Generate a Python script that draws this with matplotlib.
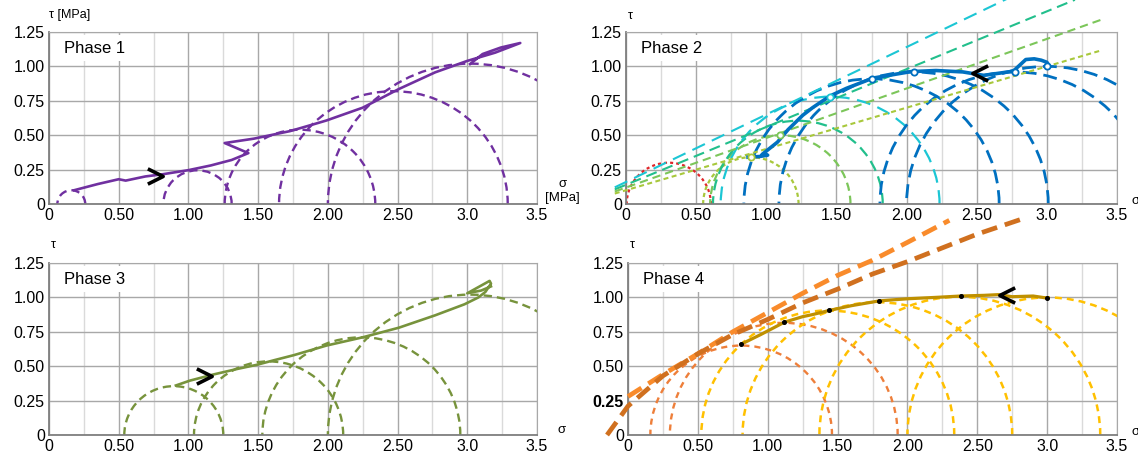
import numpy as np
import matplotlib.pyplot as plt
from matplotlib.patches import Arc
from matplotlib.path import Path

plt.rcParams['font.family'] = ['Liberation Sans', 'DejaVu Sans']
plt.rcParams['lines.scale_dashes'] = False

# ---------------- data ----------------
xtick_vals = [0, 0.5, 1.0, 1.5, 2.0, 2.5, 3.0, 3.5]
xtick_text = ['0', '0.50', '1.00', '1.50', '2.00', '2.50', '3.0', '3.5']
ytick_vals = [0, 0.25, 0.5, 0.75, 1.0, 1.25]
ytick_text = ['0', '0.25', '0.50', '0.75', '1.00', '1.25']

# phase 1
p1_c = [0.16, 1.065, 1.80, 2.47, 3.02]
p1_r = [0.10, 0.245, 0.54, 0.82, 1.02]
p1_sig = [0.18, 0.35, 0.50, 0.55, 0.69, 0.82, 1.00, 1.16, 1.31, 1.43, 1.26, 1.47,
          1.73, 1.91, 1.99, 2.25, 2.51, 2.77, 3.00, 3.20, 3.38, 3.24, 3.11, 3.02]
p1_tau = [0.10, 0.145, 0.18, 0.17, 0.20, 0.217, 0.246, 0.28, 0.32, 0.37, 0.443, 0.475,
          0.53, 0.583, 0.607, 0.70, 0.836, 0.957, 1.04, 1.10, 1.17, 1.137, 1.09, 1.017]
p1_arrow = (0.76, 0.205)

# phase 2
p2_circ_c = [0.305, 0.89, 1.10, 1.225, 1.455]
p2_circ_r = [0.30, 0.34, 0.50, 0.605, 0.78]
p2_circ_col = ['#E0262A', '#A8C83C', '#7CC65A', '#22BF8C', '#1CC6D4']
p2_blue_c = [1.75, 2.05, 2.77, 3.0]
p2_blue_r = [0.91, 0.96, 0.96, 1.0]
env_sig0 = [-0.08, -0.08, -0.08, -0.08]
env_tau0 = [0.121, 0.106, 0.091, 0.076]
env_sig1 = [2.75, 3.20, 3.39, 3.39]
env_tau1 = [1.508, 1.484, 1.340, 1.117]
env_col = ['#1CC6D4', '#22BF8C', '#7CC65A', '#A8C83C']
p2_sig = [0.87, 0.95, 1.01, 0.97, 1.08, 1.155, 1.26, 1.33, 1.41, 1.465, 1.57, 1.76,
          2.03, 2.21, 2.40, 2.55, 2.76, 2.85, 2.91, 2.96, 3.00, 3.02]
p2_tau = [0.34, 0.345, 0.355, 0.36, 0.45, 0.54, 0.645, 0.70, 0.755, 0.79, 0.84, 0.915,
          0.962, 0.97, 0.96, 0.935, 0.965, 1.05, 1.055, 1.045, 1.03, 1.00]
p2_mk_sig = [0.89, 1.10, 1.455, 1.75, 2.05, 2.77, 3.0]
p2_mk_tau = [0.343, 0.50, 0.78, 0.91, 0.96, 0.96, 1.0]
p2_mk_col = ['#A8C83C', '#7CC65A', '#1CC6D4', '#0070C0', '#0070C0', '#0070C0', '#0070C0']
p2_arrow = (2.52, 0.955)

# phase 3
p3_c = [0.895, 1.575, 2.24, 3.02]
p3_r = [0.355, 0.535, 0.71, 1.02]
p3_sig = [0.91, 1.01, 1.18, 1.35, 1.49, 1.62, 1.755, 1.99, 2.25, 2.51, 2.77, 2.98,
          3.08, 3.13, 3.17, 3.16, 3.08, 3.00, 3.10, 3.17]
p3_tau = [0.36, 0.395, 0.44, 0.48, 0.51, 0.545, 0.58, 0.65, 0.71, 0.78, 0.87, 0.95,
          1.00, 1.04, 1.10, 1.12, 1.075, 1.03, 1.05, 1.08]
p3_arrow = (1.11, 0.43)

# phase 4
p4_orange_c = [0.81, 1.115]
p4_orange_r = [0.65, 0.815]
p4_yellow_c = [1.43, 1.785, 2.375, 3.0]
p4_yellow_r = [0.905, 0.965, 1.005, 1.0]
env_a_sig = [0.0, 0.25, 0.5, 0.75, 1.0, 1.25, 1.5, 1.75, 2.0, 2.30]
env_a_tau = [0.28, 0.44, 0.59, 0.75, 0.89, 1.03, 1.16, 1.27, 1.40, 1.56]
env_b_sig = [-0.15, -0.05, 0.0, 0.25, 0.5, 0.75, 1.0, 1.25, 1.5, 1.75, 2.0, 2.25,
             2.5, 2.85]
env_b_tau = [0.0, 0.14, 0.21, 0.43, 0.59, 0.73, 0.84, 0.96, 1.06, 1.17, 1.26, 1.36,
             1.46, 1.58]
p4_sig = [0.81, 0.95, 1.12, 1.25, 1.32, 1.44, 1.60, 1.80, 2.00, 2.20, 2.38, 2.55,
          2.65, 2.75, 2.90, 3.00]
p4_tau = [0.66, 0.73, 0.82, 0.86, 0.875, 0.905, 0.94, 0.975, 0.99, 1.00, 1.01, 1.015,
          1.02, 1.005, 1.01, 0.995]
p4_mk_sig = [0.81, 1.12, 1.44, 1.80, 2.38, 3.00]
p4_mk_tau = [0.66, 0.82, 0.905, 0.975, 1.01, 0.995]
p4_arrow = (2.71, 1.02)

# ---------------- figure ----------------
W, H = 1138, 461
fig = plt.figure(figsize=(W / 100, H / 100), dpi=100)


def make_ax(l, r, t, b):
    ax = fig.add_axes([l / W, 1 - b / H, (r - l) / W, (b - t) / H])
    ax.set_xlim(0, 3.5)
    ax.set_ylim(0, 1.25)
    ax.set_xticks(xtick_vals)
    ax.set_xticklabels(xtick_text)
    ax.set_xticks(np.arange(0.25, 3.5, 0.5), minor=True)
    ax.set_yticks(ytick_vals)
    ax.set_yticklabels(ytick_text)
    ax.tick_params(length=0, labelsize=11.5, pad=3)
    ax.tick_params(which='minor', length=0)
    ax.grid(True, which='major', color='#A8A8A8', lw=1)
    ax.grid(True, which='minor', axis='x', color='#DADADA', lw=1)
    ax.set_axisbelow(True)
    for s in ['top', 'right']:
        ax.spines[s].set_color('#A8A8A8')
    for s in ['left', 'bottom']:
        ax.spines[s].set_color('#7F7F7F')
        ax.spines[s].set_linewidth(1.3)
    return ax


def circles(ax, cs, rs, color, dash, lw):
    for c, r in zip(cs, rs):
        ax.add_patch(Arc((c, 0), 2 * r, 2 * r, theta1=0, theta2=180, color=color,
                         lw=lw, linestyle=(0, dash), zorder=2))


def phase_label(ax, txt):
    ax.text(0.03, 0.905, txt, transform=ax.transAxes, fontsize=12, va='center',
            zorder=6, bbox=dict(fc='white', ec='none', pad=4))


chev_r = Path([(-1, 1), (1, 0), (-1, -1)], [Path.MOVETO, Path.LINETO, Path.LINETO])
chev_l = Path([(1, 1), (-1, 0), (1, -1)], [Path.MOVETO, Path.LINETO, Path.LINETO])

ax1 = make_ax(49, 537, 32, 204)
ax2 = make_ax(626, 1117, 32, 204)
ax3 = make_ax(49, 537, 263, 435)
ax4 = make_ax(628, 1117, 263, 435)

# phase 1
purple = '#7030A0'
circles(ax1, p1_c, p1_r, purple, (6.0, 3.6), 1.7)
ax1.plot(p1_sig, p1_tau, color=purple, lw=1.9, zorder=4)
ax1.plot(*p1_arrow, marker=chev_r, ms=11, mfc='none', mec='k', mew=2.6, zorder=7)
phase_label(ax1, 'Phase 1')
ax1.text(0.0, 1.10, 'τ [MPa]', transform=ax1.transAxes, fontsize=9, ha='left', va='center')
ax1.text(1.053, 0.075, 'σ\n[MPa]', transform=ax1.transAxes, fontsize=9.5, ha='center',
         va='center', linespacing=1.15)

# phase 2
circ_dash = [(2.2, 2.2), (3.0, 2.2), (6.0, 3.6), (8.0, 4.3), (10.0, 5.5)]
circ_lw = [1.6, 1.6, 1.6, 1.6, 1.6]
for c, r, col, d, lw in zip(p2_circ_c, p2_circ_r, p2_circ_col, circ_dash, circ_lw):
    circles(ax2, [c], [r], col, d, lw)
circles(ax2, p2_blue_c, p2_blue_r, '#0070C0', (10.0, 5.0), 2.0)
env_dash = [(10.0, 5.5), (8.0, 4.3), (6.0, 3.6), (3.6, 2.5)]
for s0, t0, s1, t1, col, d in zip(env_sig0, env_tau0, env_sig1, env_tau1, env_col, env_dash):
    ax2.plot([s0, s1], [t0, t1], color=col, lw=1.5, linestyle=(0, d), clip_on=False, zorder=3)
ax2.plot(p2_sig, p2_tau, color='#0070C0', lw=2.6, zorder=4)
for s, t, col in zip(p2_mk_sig, p2_mk_tau, p2_mk_col):
    ax2.plot(s, t, 'o', ms=4.5, mfc='white', mec=col, mew=1.3, zorder=5)
ax2.plot(*p2_arrow, marker=chev_l, ms=11, mfc='none', mec='k', mew=2.6, zorder=7)
phase_label(ax2, 'Phase 2')
ax2.text(0.004, 1.093, 'τ', transform=ax2.transAxes, fontsize=9, ha='left', va='center')
ax2.text(1.037, 0.02, 'σ', transform=ax2.transAxes, fontsize=9.5, ha='center', va='center')

# phase 3
olive = '#77933C'
circles(ax3, p3_c, p3_r, olive, (6.0, 3.6), 1.7)
ax3.plot(p3_sig, p3_tau, color=olive, lw=1.9, zorder=4)
ax3.plot(*p3_arrow, marker=chev_r, ms=11, mfc='none', mec='k', mew=2.6, zorder=7)
phase_label(ax3, 'Phase 3')
ax3.text(0.004, 1.105, 'τ', transform=ax3.transAxes, fontsize=9, ha='left', va='center')
ax3.text(1.05, 0.03, 'σ', transform=ax3.transAxes, fontsize=9.5, ha='center', va='center')

# phase 4
circles(ax4, p4_orange_c, p4_orange_r, '#EE7F3A', (4.4, 3.6), 1.7)
circles(ax4, p4_yellow_c, p4_yellow_r, '#FFC000', (5.0, 3.6), 1.8)
ax4.plot(env_a_sig, env_a_tau, color='#F98B2B', lw=3.4, linestyle=(0, (11.5, 5.8)),
         clip_on=False, zorder=3)
ax4.plot(env_b_sig, env_b_tau, color='#D0701F', lw=3.4, linestyle=(0, (11.5, 5.8)),
         clip_on=False, zorder=3)
ax4.plot(p4_sig, p4_tau, color='#BF9000', lw=2.3, zorder=4)
ax4.plot(p4_mk_sig, p4_mk_tau, 'o', ms=2.6, color='k', zorder=5)
ax4.plot(*p4_arrow, marker=chev_l, ms=11, mfc='none', mec='k', mew=2.6, zorder=7)
phase_label(ax4, 'Phase 4')
ax4.get_yticklabels()[1].set_fontweight('bold')
ax4.text(0.004, 1.105, 'τ', transform=ax4.transAxes, fontsize=9, ha='left', va='center')
ax4.text(1.037, 0.02, 'σ', transform=ax4.transAxes, fontsize=9.5, ha='center', va='center')

fig.savefig('out.png', dpi=100)
